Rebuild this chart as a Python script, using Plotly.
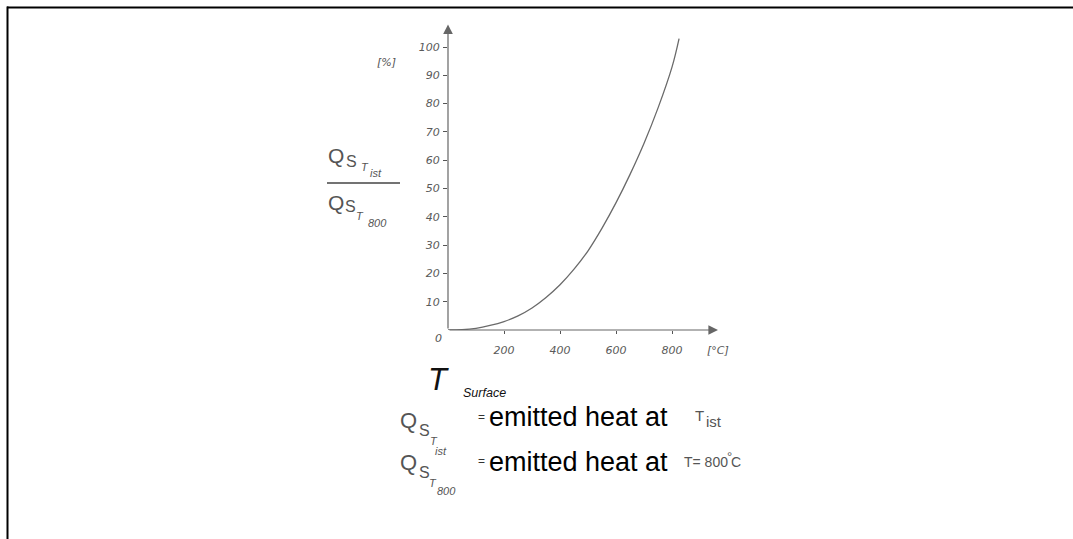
import plotly.graph_objects as go

# Surface temperature [°C] and emitted heat relative to 800 °C [%]
t_surface = [0, 50, 100, 150, 200, 250, 300, 350, 400, 450, 500, 550, 600, 650, 700, 750, 800, 825]
q_ratio = [0, 0.1, 0.6, 1.6, 3.0, 5.0, 7.8, 11.5, 16.0, 21.5, 28.0, 36.0, 45.0, 55.0, 66.0, 78.5, 93.0, 103.0]

x_ticks = [200, 400, 600, 800]
y_ticks = [10, 20, 30, 40, 50, 60, 70, 80, 90, 100]

W, H = 1073, 539
X_MAX, Y_MAX = 964, 108
GRAY = "#555555"
TICK_FONT = dict(family="DejaVu Sans", size=11, color="#5a5a5a", style="italic")

fig = go.Figure()
fig.add_trace(go.Scatter(
    x=t_surface, y=q_ratio, mode="lines",
    line=dict(color="#6a6a6a", width=1.3, shape="spline", smoothing=1.0),
    hoverinfo="skip", showlegend=False,
))

fig.update_layout(
    width=W, height=H,
    margin=dict(l=0, r=0, t=0, b=0),
    paper_bgcolor="white", plot_bgcolor="white",
    xaxis=dict(
        domain=[448 / W, 718 / W], range=[0, X_MAX],
        tickvals=x_ticks, ticktext=[str(v) for v in x_ticks],
        ticks="outside", ticklen=3, tickcolor=GRAY, tickwidth=1,
        tickfont=TICK_FONT, ticklabelstandoff=7,
        showgrid=False, zeroline=False, showline=False,
    ),
    yaxis=dict(
        domain=[1 - 330 / H, 1 - 24.4 / H], range=[0, Y_MAX],
        tickvals=y_ticks, ticktext=[str(v) for v in y_ticks],
        ticks="outside", ticklen=4, tickcolor=GRAY, tickwidth=1,
        tickfont=TICK_FONT, ticklabelstandoff=1,
        showgrid=False, zeroline=False, showline=False,
    ),
)

# Axes drawn as arrows
for x_end, y_end in [(X_MAX, 0), (0, Y_MAX)]:
    fig.add_annotation(
        x=x_end, y=y_end, ax=0, ay=0, xref="x", yref="y", axref="x", ayref="y",
        text="", showarrow=True, arrowhead=2, arrowsize=1.6, arrowwidth=1.2,
        arrowcolor="#666666", standoff=0, startstandoff=0,
    )


def label(px, py, text, size, color=GRAY, italic=False, family="Liberation Sans",
          xanchor="center"):
    fig.add_annotation(
        x=px / W, y=1 - py / H, xref="paper", yref="paper",
        text=text, showarrow=False, xanchor=xanchor, yanchor="middle",
        borderpad=0,
        font=dict(family=family, size=size, color=color,
                  style="italic" if italic else "normal"),
    )


# Axis annotations
label(438, 338, "0", 11, italic=True, family="DejaVu Sans")
label(718, 350, "[°C]", 11, italic=True, family="DejaVu Sans")
label(386, 62, "[%]", 11, italic=True, family="DejaVu Sans")

# Y label: Q_S(T_ist) / Q_S(T_800)
label(336, 156, "Q", 21)
label(351, 161, "S", 16)
label(365, 167, "T", 11, italic=True)
label(376, 173, "ist", 11, italic=True)
label(336, 202, "Q", 21)
label(350, 207, "S", 16)
label(360, 216, "T", 11, italic=True)
label(377, 223, "800", 11, italic=True)
fig.add_shape(type="line", xref="paper", yref="paper",
              x0=327 / W, x1=400 / W, y0=1 - 183 / H, y1=1 - 183 / H,
              line=dict(color="#444444", width=1.3))

# X label: T_Surface
label(439, 379, "T", 31, color="#111111", italic=True)
label(484, 393, "Surface", 12.5, color="#111111", italic=True)

# Definitions
label(408, 420, "Q", 22)
label(424, 430, "S", 16)
label(434, 441, "T", 11, italic=True)
label(441, 451, "ist", 11, italic=True)
label(481, 417, "=", 12, color="#333333")
label(488, 417, "emitted heat at", 27, color="#000000", xanchor="left")
label(699, 415, "T", 15)
label(705, 421, "ist", 15, xanchor="left")

label(408, 462, "Q", 22)
label(424, 472, "S", 16)
label(433, 483, "T", 11, italic=True)
label(446, 491, "800", 11, italic=True)
label(481, 461, "=", 12, color="#333333")
label(488, 462, "emitted heat at", 27, color="#000000", xanchor="left")
label(683, 462, "T= 800", 14, xanchor="left")
label(729, 456, "°", 13)
label(736, 462, "C", 14)

# Frame lines along the top and left edges
fig.add_shape(type="line", xref="paper", yref="paper", x0=7 / W, x1=1, y0=1 - 7.5 / H, y1=1 - 7.5 / H,
              line=dict(color="black", width=2))
fig.add_shape(type="line", xref="paper", yref="paper", x0=7.5 / W, x1=7.5 / W, y0=0, y1=1 - 6.5 / H,
              line=dict(color="black", width=2))

fig.write_html("out.html")
